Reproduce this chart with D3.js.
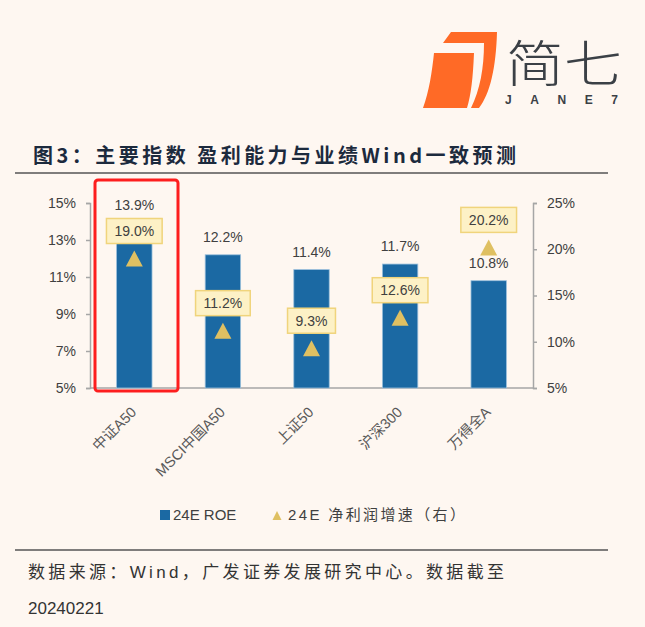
<!DOCTYPE html>
<html>
<head>
<meta charset="utf-8">
<script src="https://cdn.jsdelivr.net/npm/d3@7"></script>
<style>
  html, body { margin: 0; padding: 0; background: #fef7f1; }
  svg { display: block; }
  text { font-family: "Liberation Sans", "Noto Sans CJK SC", sans-serif; }
</style>
</head>
<body>
<svg id="chart" width="645" height="627"></svg>
<script>
// data
const categories = ["中证A50", "MSCI中国A50", "上证50", "沪深300", "万得全A"];
const roe = [13.9, 12.2, 11.4, 11.7, 10.8];          // 24E ROE, left axis
const growth = [19.0, 11.2, 9.3, 12.6, 20.2];        // 24E net profit growth, right axis
const leftTicks = [5, 7, 9, 11, 13, 15];
const rightTicks = [5, 10, 15, 20, 25];
const titleText = "图3：主要指数 盈利能力与业绩Wind一致预测";
const sourceText = "数据来源：Wind，广发证券发展研究中心。数据截至";
const sourceDate = "20240221";
const legendLabels = ["24E ROE", "24E 净利润增速（右）"];

const svg = d3.select("#chart");
const barColor = "#1b69a3";
const triColor = "#dfc062";
const axisColor = "#a6a6a6";

svg.append("rect").attr("width", 645).attr("height", 627).attr("fill", "#fef7f1");

// logo
const logo = svg.append("g");
logo.append("path")
  .attr("d", "M443,43 L451,32 L497,32 C496,68 490,94 479,108 L471,108 C480,90 484,68 484,43 Z")
  .attr("fill", "#ff6a26");
logo.append("path")
  .attr("d", "M434,53 L474,53 C473,78 471,95 467,108 L423,108 C429,92 432,72 434,53 Z")
  .attr("fill", "#ff6a26");
logo.append("text")
  .attr("x", 506).attr("y", 82)
  .attr("textLength", 116).attr("lengthAdjust", "spacingAndGlyphs")
  .style("font-family", "'Noto Sans CJK SC', sans-serif")
  .style("font-size", "50px").style("font-weight", "300")
  .attr("fill", "#3b4046")
  .text("简七");
logo.append("text")
  .attr("x", 505).attr("y", 104)
  .attr("textLength", 113).attr("lengthAdjust", "spacing")
  .style("font-size", "12px").style("font-weight", "bold")
  .attr("fill", "#3b4046")
  .text("JANE7");

// title
svg.append("text")
  .attr("x", 33).attr("y", 163)
  .attr("textLength", 483).attr("lengthAdjust", "spacing")
  .style("font-family", "'Noto Sans CJK SC', sans-serif")
  .style("font-size", "20px").style("font-weight", "bold")
  .attr("fill", "#1c2a3d")
  .text(titleText);
svg.append("line")
  .attr("x1", 15).attr("x2", 608).attr("y1", 173).attr("y2", 173)
  .attr("stroke", "#555").attr("stroke-width", 1.5);

// scales
const x = d3.scaleBand().domain(categories).range([90, 533]).paddingInner(0.6).paddingOuter(0.3);
const yL = d3.scaleLinear().domain([5, 15]).range([388, 203]);
const yR = d3.scaleLinear().domain([5, 25]).range([388, 203]);

// axes
const fmt = d => d + "%";
const gL = svg.append("g").attr("transform", "translate(90,0)")
  .call(d3.axisLeft(yL).tickValues(leftTicks).tickFormat(fmt).tickSizeOuter(0).tickSize(4).tickPadding(10));
const gR = svg.append("g").attr("transform", "translate(533,0)")
  .call(d3.axisRight(yR).tickValues(rightTicks).tickFormat(fmt).tickSizeOuter(0).tickSize(4).tickPadding(10));
[gL, gR].forEach(g => {
  g.select(".domain").attr("stroke", axisColor).attr("stroke-width", 1.5);
  g.selectAll(".tick line").attr("stroke", axisColor).attr("stroke-width", 1.5);
  g.selectAll(".tick text")
    .style("font-family", "'Liberation Sans', sans-serif")
    .style("font-size", "14px").attr("fill", "#404040");
});
svg.append("line")
  .attr("x1", 90).attr("x2", 533).attr("y1", 388).attr("y2", 388)
  .attr("stroke", axisColor).attr("stroke-width", 1.5);

// bars
svg.selectAll(".bar").data(categories).enter().append("rect")
  .attr("class", "bar")
  .attr("x", d => x(d))
  .attr("width", x.bandwidth())
  .attr("y", (d, i) => yL(roe[i]))
  .attr("height", (d, i) => yL(5) - yL(roe[i]))
  .attr("fill", barColor)
  .attr("stroke", "#9cc0dc").attr("stroke-width", 0.8);

// ROE labels
svg.selectAll(".roeLab").data(categories).enter().append("text")
  .attr("x", d => x(d) + x.bandwidth() / 2)
  .attr("y", (d, i) => yL(roe[i]) - 13)
  .attr("text-anchor", "middle")
  .style("font-size", "14px").attr("fill", "#404040")
  .text((d, i) => roe[i].toFixed(1) + "%");

// growth triangles + boxed labels
const tri = "M0,-8 L8.5,8 L-8.5,8 Z";
categories.forEach((c, i) => {
  const cx = x(c) + x.bandwidth() / 2;
  const cy = yR(growth[i]);
  svg.append("path").attr("d", tri)
    .attr("transform", `translate(${cx},${cy})`)
    .attr("fill", triColor);
  const g = svg.append("g").attr("transform", `translate(${cx},${cy - 27.5})`);
  const box = g.append("rect").attr("fill", "#fdf1c6").attr("stroke", "#f0d47c").attr("stroke-width", 1.5);
  const t = g.append("text")
    .attr("text-anchor", "middle").attr("dy", "0.36em")
    .style("font-size", "14px").attr("fill", "#404040")
    .text(growth[i].toFixed(1) + "%");
  const w = t.node().getComputedTextLength() + 16;
  box.attr("x", -w / 2).attr("y", -12.5).attr("width", w).attr("height", 25);
});

// highlight box
svg.append("rect")
  .attr("x", 95).attr("y", 180).attr("width", 83).attr("height", 211)
  .attr("rx", 3)
  .attr("fill", "none").attr("stroke", "#fd1e1e").attr("stroke-width", 3);

// x labels
svg.selectAll(".xlab").data(categories).enter().append("text")
  .attr("transform", d => `translate(${x(d) + x.bandwidth() / 2 + 3},${413}) rotate(-45)`)
  .attr("text-anchor", "end")
  .style("font-size", "14.5px").attr("fill", "#595959")
  .text(d => d);

// legend
svg.append("rect").attr("x", 160).attr("y", 510).attr("width", 10).attr("height", 10).attr("fill", barColor);
svg.append("text").attr("x", 173).attr("y", 520)
  .style("font-size", "15px").attr("fill", "#404040").text(legendLabels[0]);
svg.append("path").attr("d", "M277,511 L281.5,520 L272.5,520 Z").attr("fill", triColor);
svg.append("text").attr("x", 288).attr("y", 520)
  .attr("textLength", 177).attr("lengthAdjust", "spacing")
  .style("font-size", "15px").attr("fill", "#404040").text(legendLabels[1]);

// source
svg.append("line")
  .attr("x1", 15).attr("x2", 608).attr("y1", 550).attr("y2", 550)
  .attr("stroke", "#555").attr("stroke-width", 1.5);
svg.append("text").attr("x", 28).attr("y", 578)
  .attr("textLength", 476).attr("lengthAdjust", "spacing")
  .style("font-size", "17px").attr("fill", "#333").text(sourceText);
svg.append("text").attr("x", 28).attr("y", 614)
  .style("font-size", "17px").attr("fill", "#333").text(sourceDate);
</script>
</body>
</html>
